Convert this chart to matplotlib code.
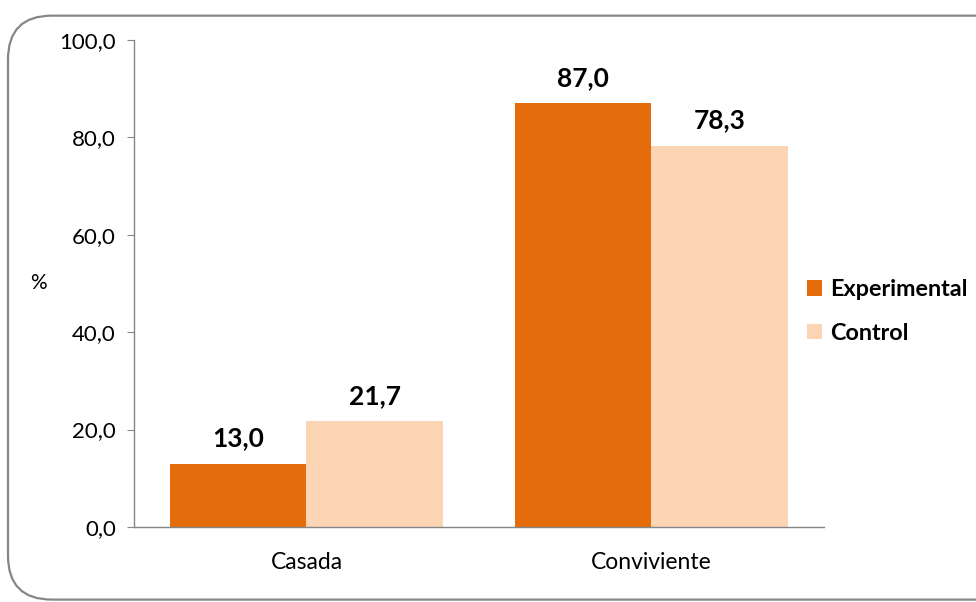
import numpy as np
import matplotlib.pyplot as plt
from matplotlib.patches import FancyBboxPatch, Patch

categories = ["Casada", "Conviviente"]
experimental = [13.0, 87.0]
control = [21.7, 78.3]
series_names = ["Experimental", "Control"]
yticks = [0, 20, 40, 60, 80, 100]

plt.rcParams["font.family"] = ["Lato", "DejaVu Sans"]

fig = plt.figure(figsize=(9.76, 6.02), dpi=100)
ax = fig.add_axes([0.1373, 0.1246, 0.7067, 0.809])

# rounded frame around the whole chart
frame = FancyBboxPatch((8 / 976, 0.004), 1.05, 0.97,
                       boxstyle="round,pad=0,rounding_size=0.045",
                       transform=fig.transFigure, fill=False,
                       edgecolor="#868686", linewidth=1.6,
                       mutation_aspect=976 / 602, clip_on=False)
fig.patches.append(frame)

x = np.arange(len(categories))
w = 0.395
c_exp = "#E46C0A"
c_ctl = "#FCD5B5"
b1 = ax.bar(x - w / 2, experimental, w, color=c_exp, label=series_names[0])
b2 = ax.bar(x + w / 2, control, w, color=c_ctl, label=series_names[1])

for bars, vals in ((b1, experimental), (b2, control)):
    for b, v in zip(bars, vals):
        ax.text(b.get_x() + b.get_width() / 2, v + 2.8, f"{v:.1f}".replace(".", ","),
                ha="center", va="bottom", fontsize=19, fontweight="bold")

ax.set_xlim(-0.5, 1.5)
ax.set_ylim(0, 100)
ax.set_yticks(yticks)
ax.set_yticklabels([f"{t:.1f}".replace(".", ",") for t in yticks], fontsize=16)
ax.set_xticks(x)
ax.set_xticklabels(categories, fontsize=16.5)
ax.tick_params(axis="x", length=0, pad=18)
ax.tick_params(axis="y", length=5, color="#868686", pad=8)

for s in ("top", "right"):
    ax.spines[s].set_visible(False)
for s in ("left", "bottom"):
    ax.spines[s].set_color("#868686")
    ax.spines[s].set_linewidth(1.0)

fig.text(38 / 976, 1 - 283 / 602, "%", ha="center", va="center", fontsize=15)

handles = [Patch(facecolor=c_exp), Patch(facecolor=c_ctl)]
fig.legend(handles, series_names, loc="center left", bbox_to_anchor=(0.8145, 0.483),
           frameon=False, handlelength=0.65, handleheight=0.65, handletextpad=0.35,
           labelspacing=0.97, borderpad=0, prop={"size": 16.8, "weight": "bold"})

fig.savefig("out.png", dpi=100)
